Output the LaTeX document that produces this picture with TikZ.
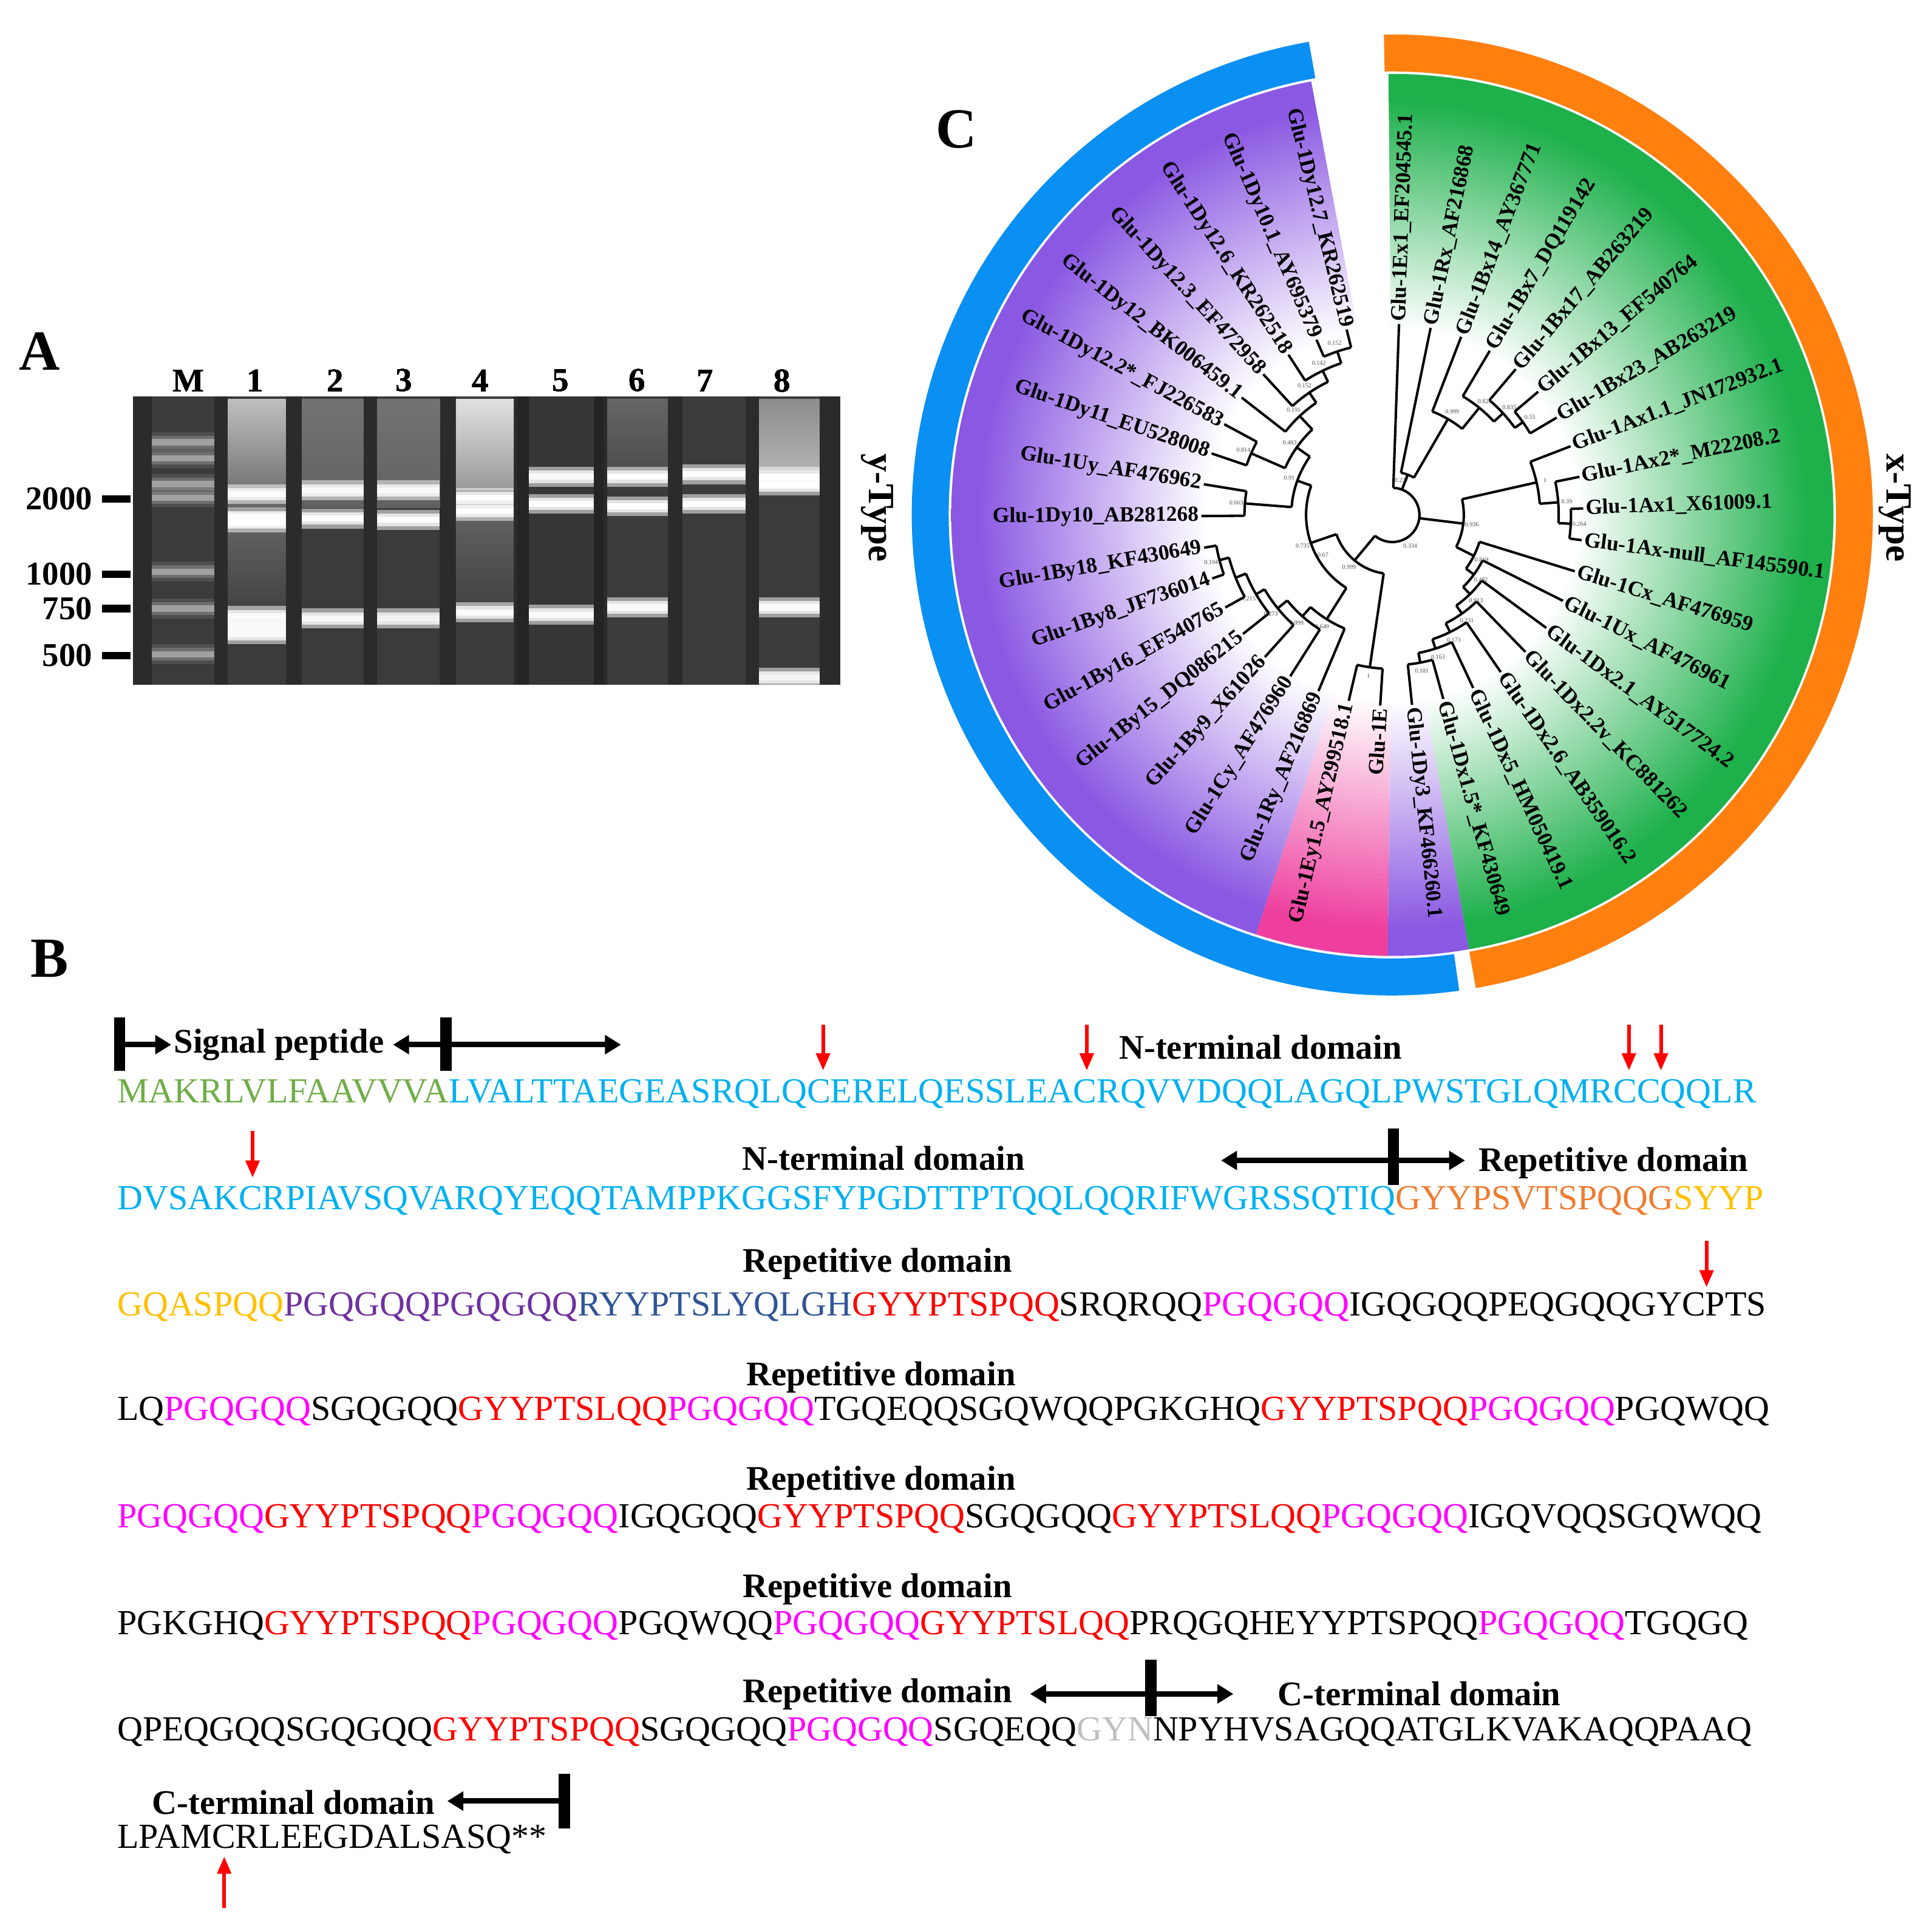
\documentclass[tikz,border=0pt]{standalone}
\usepackage{fontspec}
\setmainfont{Liberation Serif}
\usetikzlibrary{arrows.meta}
\definecolor{sgreen}{HTML}{70AD47}
\definecolor{sblue}{HTML}{00B0F0}
\definecolor{sorange}{HTML}{ED7D31}
\definecolor{syellow}{HTML}{FFC000}
\definecolor{spurple}{HTML}{7030A0}
\definecolor{sdark}{HTML}{2F5597}
\definecolor{sred}{HTML}{FF0000}
\definecolor{smag}{HTML}{FF00FF}
\definecolor{sgray}{HTML}{BFBFBF}
\definecolor{ringblue}{HTML}{0A8FF2}
\definecolor{ringorange}{HTML}{FF7F0F}
\definecolor{fgreen}{HTML}{1DB04B}
\definecolor{fpurple}{HTML}{8A58E2}
\definecolor{fpink}{HTML}{EE3F9E}
\pgfdeclareradialshading{gfan}{\pgfpoint{0bp}{0bp}}{color(0bp)=(white); color(10.5bp)=(white); color(23.5bp)=(fgreen); color(50bp)=(fgreen)}
\pgfdeclareradialshading{pfan}{\pgfpoint{0bp}{0bp}}{color(0bp)=(white); color(10.5bp)=(white); color(23.5bp)=(fpurple); color(50bp)=(fpurple)}
\pgfdeclareradialshading{kfan}{\pgfpoint{0bp}{0bp}}{color(0bp)=(white); color(10.5bp)=(white); color(23.5bp)=(fpink); color(50bp)=(fpink)}
\tikzset{
  br/.style={line width=2pt},
  lab/.style={font=\bfseries\fontsize{17.5}{17.5}\selectfont, inner sep=2pt},
  bsf/.style={font=\fontsize{5}{5}\selectfont, inner sep=0pt, text=black!70},
  seq/.style={font=\fontsize{28.6}{28.6}\selectfont, anchor=base west, inner sep=0pt},
  hdr/.style={font=\bfseries\fontsize{28}{28}\selectfont, inner sep=0pt},
  big/.style={line width=4.5pt, -{Triangle[width=15pt,length=13pt]}},
  bar/.style={line width=9pt},
  redar/.style={sred, line width=3pt, -{Triangle[width=11pt,length=14pt]}},
  gl/.style={font=\bfseries\fontsize{27}{27}\selectfont, inner sep=0pt},
  panel/.style={font=\bfseries\fontsize{46}{46}\selectfont, inner sep=0pt},
}
\newcommand\lf[3]{\draw[br] (#1:#2) -- (#1:155);
  \pgfmathsetmacro\cc{cos(#1)}%
  \ifdim\cc pt>0pt \node[lab,anchor=west,rotate=#1] at (#1:155) {#3};%
  \else \pgfmathsetmacro\ra{#1+180}\node[lab,anchor=east,rotate=\ra] at (#1:155) {#3};\fi}
\newcommand\nd[5]{\draw[br] (#2:#3) -- (#2:#1); \draw[br] (#4:#1) arc[start angle=#4, end angle=#5, radius=#1];}
\newcommand\bs[3]{\node[bsf] at (#2:#1+7) {#3};}
\newcommand\band[4]{\fill[white,opacity=#4] (#1,#3-2.5) rectangle (#2,#3+2.5);\fill[white,opacity=0.18] (#1,#3-5) rectangle (#2,#3+5);\fill[white,opacity=0.1] (#1,#3-8) rectangle (#2,#3+8);}
\begin{document}
\begin{tikzpicture}[x=1pt,y=-1pt]
\useasboundingbox (0,0) rectangle (1568,1564.6);
% ---------------- Panel A ----------------
\node[panel] (pA) at (32,285) {A};
\fill[black!83] (108,322) rectangle (682,556);
\fill[black!86] (420,322) rectangle (490,556);
\foreach \a/\b in {123/174,185/232,245/295,306/357,370/417,493/542,554/605,616/665}
  \fill[black!77] (\a,322) rectangle (\b,556);
\fill[black!79] (429,322) rectangle (482,556);
% smears
\shade[top color=black!25, bottom color=black!60] (185,324) rectangle (232,412);
\shade[top color=black!55, bottom color=black!62] (245,324) rectangle (295,412);
\shade[top color=black!55, bottom color=black!62] (306,324) rectangle (357,412);
\shade[top color=black!12, bottom color=black!40] (370,324) rectangle (417,398);
\shade[top color=black!60, bottom color=black!70] (493,324) rectangle (542,382);
\shade[top color=black!45, bottom color=black!30] (616,324) rectangle (665,382);
\shade[top color=black!62, bottom color=black!75] (185,430) rectangle (232,500);
\shade[top color=black!62, bottom color=black!75] (370,418) rectangle (417,500);
% bands
\foreach \y in {359,372,393,404,464,494,531} \band{123}{174}{\y}{0.35}
\band{185}{232}{424}{0.95}\band{185}{232}{420}{0.9}\band{185}{232}{401}{0.3}
\band{185}{232}{500}{0.3}\band{185}{232}{508}{0.25}\band{185}{232}{515}{0.2}
\band{245}{295}{421}{0.95}\band{245}{295}{398}{0.2}\band{245}{295}{502}{0.25}
\band{306}{357}{422}{0.95}\band{306}{357}{398}{0.2}\band{306}{357}{502}{0.12}
\band{370}{417}{404}{0.5}\band{370}{417}{415}{0.85}\band{370}{417}{497}{0.3}
\band{429}{482}{387}{0.3}\band{429}{482}{409}{0.4}\band{429}{482}{499}{0.3}
\band{493}{542}{387}{0.8}\band{493}{542}{411}{0.9}\band{493}{542}{493}{0.25}
\band{554}{605}{385}{0.65}\band{554}{605}{409}{0.5}
\band{616}{665}{387}{0.9}\band{616}{665}{394}{0.85}\band{616}{665}{493}{0.3}\band{616}{665}{550}{0.15}
% lane labels
\foreach \x/\t [count=\i] in {153/M,207/1,272/2,328/3,390/4,455/5,517/6,572/7,635/8}
  \node[gl] (ln\i) at (\x,309) {\t};
\foreach \y/\t [count=\i] in {405/2000,466/1000,494/750,532/500}{
  \node[gl,anchor=east] (sz\i) at (75,\y) {\t};
  \draw[line width=6pt] (83,\y) -- (106,\y);}
% ---------------- Panel C ----------------
\node[panel] (pC) at (776,105) {C};
\node[font=\bfseries\fontsize{30}{30}\selectfont,rotate=-90] (yt) at (712,412) {y-Type};
\node[font=\bfseries\fontsize{30}{30}\selectfont,rotate=-90] (xt) at (1538,412) {x-Type};
\begin{scope}[shift={(1130,418)}, yscale=-1]
\fill[ringblue] (100:360) arc[start angle=100,end angle=278,radius=360] -- (278:390) arc[start angle=278,end angle=100,radius=390] -- cycle;
\fill[ringorange] (-80:360) arc[start angle=-80,end angle=91,radius=360] -- (91:390) arc[start angle=91,end angle=-80,radius=390] -- cycle;
\begin{scope}\clip (0,0) -- (-80:358) arc[start angle=-80,end angle=90.5,radius=358] -- cycle;
\shade[shading=gfan] (0,0) circle (358);\end{scope}
\begin{scope}\clip (0,0) -- (100.6:358) arc[start angle=100.6,end angle=252,radius=358] -- cycle;
\shade[shading=pfan] (0,0) circle (358);\end{scope}
\begin{scope}\clip (0,0) -- (-90.6:358) arc[start angle=-90.6,end angle=-80,radius=358] -- cycle;
\shade[shading=pfan] (0,0) circle (358);\end{scope}
\begin{scope}\clip (0,0) -- (-108:358) arc[start angle=-108,end angle=-90.6,radius=358] -- cycle;
\shade[shading=kfan] (0,0) circle (358);\end{scope}
% tree
\draw[br] (88:22) arc[start angle=88,end angle=-129.7,radius=22];
\lf{88}{22}{Glu-1Ex1\_EF204545.1}
\nd{35}{69.18}{22}{78.44}{59.92}
\lf{78.44}{35}{Glu-1Rx\_AF216868}
\nd{90}{59.92}{35}{68.88}{50.96}
\lf{68.88}{90}{Glu-1Bx14\_AY367771}
\nd{112}{50.96}{90}{59.32}{42.59}
\lf{59.32}{112}{Glu-1Bx7\_DQ119142}
\nd{122}{42.59}{112}{49.76}{35.42}
\lf{49.76}{122}{Glu-1Bx17\_AB263219}
\nd{130}{35.42}{122}{40.2}{30.64}
\lf{40.2}{130}{Glu-1Bx13\_EF540764}
\lf{30.64}{130}{Glu-1Bx23\_AB263219}
\nd{58}{-6.96}{22}{12.72}{-26.65}
\nd{120}{12.72}{58}{21.08}{4.35}
\lf{21.08}{120}{Glu-1Ax1.1\_JN172932.1}
\nd{135}{4.35}{120}{11.52}{-2.82}
\lf{11.52}{135}{Glu-1Ax2*\_M22208.2}
\nd{145}{-2.82}{135}{1.96}{-7.6}
\lf{1.96}{145}{Glu-1Ax1\_X61009.1}
\lf{-7.6}{145}{Glu-1Ax-null\_AF145590.1}
\nd{74}{-26.65}{58}{-17.16}{-36.13}
\lf{-17.16}{74}{Glu-1Cx\_AF476959}
\nd{82}{-36.13}{74}{-26.72}{-45.54}
\lf{-26.72}{82}{Glu-1Ux\_AF476961}
\nd{90}{-45.54}{82}{-36.28}{-54.8}
\lf{-36.28}{90}{Glu-1Dx2.1\_AY517724.2}
\nd{98}{-54.8}{90}{-45.84}{-63.77}
\lf{-45.84}{98}{Glu-1Dx2.2v\_KC881262}
\nd{106}{-63.77}{98}{-55.4}{-72.13}
\lf{-55.4}{106}{Glu-1Dx2.6\_AB359016.2}
\nd{114}{-72.13}{106}{-64.96}{-79.3}
\lf{-64.96}{114}{Glu-1Dx5\_HM050419.1}
\nd{122}{-79.3}{114}{-74.52}{-84.08}
\lf{-74.52}{122}{Glu-1Dx1.5*\_KF430649}
\lf{-84.08}{122}{Glu-1Dy3\_KF466260.1}
\nd{48}{-129.7}{22}{-98.42}{-161.01}
\nd{125}{-98.42}{48}{-93.64}{-103.2}
\lf{-93.64}{125}{Glu-1E}
\lf{-103.2}{125}{Glu-1Ey1.5\_AY299518.1}
\nd{70}{-161.01}{48}{-122.17}{-199.85}
\nd{100}{-122.17}{70}{-112.76}{-131.58}
\lf{-112.76}{100}{Glu-1Ry\_AF216869}
\nd{110}{-131.58}{100}{-122.32}{-140.84}
\lf{-122.32}{110}{Glu-1Cy\_AF476960}
\nd{120}{-140.84}{110}{-131.88}{-149.8}
\lf{-131.88}{120}{Glu-1By9\_X61026}
\nd{128}{-149.8}{120}{-141.44}{-158.17}
\lf{-141.44}{128}{Glu-1By15\_DQ086215}
\nd{137}{-158.17}{128}{-151}{-165.34}
\lf{-151}{137}{Glu-1By16\_EF540765}
\nd{145}{-165.34}{137}{-160.56}{-170.12}
\lf{-160.56}{145}{Glu-1By8\_JF736014}
\lf{-170.12}{145}{Glu-1By18\_KF430649}
\nd{82}{-199.85}{70}{-184.46}{-215.23}
\nd{120}{-184.46}{82}{-179.68}{-189.24}
\lf{-179.68}{120}{Glu-1Dy10\_AB281268}
\lf{-189.24}{120}{Glu-1Uy\_AF476962}
\nd{95}{-215.23}{82}{-203.58}{-226.88}
\nd{125}{-203.58}{95}{-198.8}{-208.36}
\lf{-198.8}{125}{Glu-1Dy11\_EU528008}
\lf{-208.36}{125}{Glu-1Dy12.2*\_FJ226583}
\nd{110}{-226.88}{95}{-217.92}{-235.85}
\lf{-217.92}{110}{Glu-1Dy12\_BK006459.1}
\nd{120}{-235.85}{110}{-227.48}{-244.21}
\lf{-227.48}{120}{Glu-1Dy12.3\_EF472958}
\nd{130}{-244.21}{120}{-237.04}{-251.38}
\lf{-237.04}{130}{Glu-1Dy12.6\_KR262518}
\nd{140}{-251.38}{130}{-246.6}{-256.16}
\lf{-246.6}{140}{Glu-1Dy10.1\_AY695379}
\lf{-256.16}{140}{Glu-1Dy12.7\_KR262519}
% bootstrap values
\bs{22}{-60}{0.334}\bs{22}{75}{0.237}
\bs{90}{59.92}{0.999}\bs{112}{50.96}{0.829}\bs{122}{42.59}{0.835}\bs{130}{35.42}{0.55}
\bs{58}{-6.96}{0.936}\bs{120}{12.72}{1}\bs{135}{4.35}{0.39}\bs{145}{-2.82}{0.264}
\bs{74}{-26.65}{0.819}\bs{82}{-36.13}{0.482}\bs{90}{-45.54}{0.913}\bs{98}{-54.8}{0.231}
\bs{106}{-63.77}{0.173}\bs{114}{-72.13}{0.163}\bs{122}{-79.3}{0.181}
\bs{48}{-129.7}{0.999}\bs{125}{-98.42}{1}\bs{58}{-150}{0.67}\bs{70}{-161.01}{0.735}
\bs{100}{-122.17}{0.649}\bs{110}{-131.58}{0.999}\bs{120}{-140.84}{0.273}\bs{128}{-149.8}{0.215}
\bs{145}{-165.34}{0.194}\bs{82}{-199.85}{0.91}\bs{120}{-184.46}{0.663}\bs{95}{-215.23}{0.483}
\bs{125}{-203.58}{0.814}\bs{110}{-226.88}{0.191}\bs{120}{-235.85}{0.152}\bs{130}{-244.21}{0.142}\bs{140}{-251.38}{0.152}
\end{scope}
% ---------------- Panel B ----------------
\node[panel] (pB) at (40,778) {B};
% line 1
\draw[bar] (97,826) -- (97,869);
\coordinate (s1) at (97,848); \coordinate (s1e) at (139,848);
\draw[big] (s1) -- (s1e);
\node[hdr,anchor=west] (sp) at (141,848) {Signal peptide};
\draw[bar] (362,826) -- (362,869);
\coordinate (b2) at (362,848); \coordinate (b2l) at (319,848); \coordinate (b2r) at (504,848);
\draw[big] (b2) -- (b2l); \draw[big] (b2) -- (b2r);
\node[hdr,anchor=west] (nt1) at (908,850) {N-terminal domain};
\foreach \x [count=\i] in {668,882,1322,1348}{
  \coordinate (ra\i) at (\x,832); \coordinate (rb\i) at (\x,869);
  \draw[redar] (ra\i) -- (rb\i);}
\node[seq] (l1) at (95,895) {\textcolor{sgreen}{MAKRLVLFAAVVVA}\textcolor{sblue}{LVALTTAEGEASRQLQCERELQESSLEACRQVVDQQLAGQLPWSTGLQMRCCQQLR}};
% line 2
\coordinate (rc1) at (205,918); \coordinate (rd1) at (205,956); \draw[redar] (rc1) -- (rd1);
\node[hdr] (nt2) at (717,940) {N-terminal domain};
\draw[bar] (1131,916) -- (1131,962);
\coordinate (b3) at (1131,942); \coordinate (b3l) at (991,942); \coordinate (b3r) at (1189,942);
\draw[big] (b3) -- (b3l); \draw[big] (b3) -- (b3r);
\node[hdr,anchor=west] (rp1) at (1200,944) {Repetitive domain};
\node[seq] (l2) at (95,982) {\textcolor{sblue}{DVSAKCRPIAVSQVARQYEQQTAMPPKGGSFYPGDTTPTQQLQQRIFWGRSSQTIQ}\textcolor{sorange}{GYYPSVTSPQQG}\textcolor{syellow}{SYYP}};
% line 3
\node[hdr] (rp2) at (712,1026) {Repetitive domain};
\coordinate (re1) at (1385,1007); \coordinate (rf1) at (1385,1045); \draw[redar] (re1) -- (rf1);
\node[seq] (l3) at (95,1068) {\textcolor{syellow}{GQASPQQ}\textcolor{spurple}{PGQGQQPGQGQQ}\textcolor{sdark}{RYYPTSLYQLGH}\textcolor{sred}{GYYPTSPQQ}SRQRQQ\textcolor{smag}{PGQGQQ}IGQGQQPEQGQQGYCPTS};
% line 4
\node[hdr] (rp3) at (715,1118) {Repetitive domain};
\node[seq] (l4) at (95,1153) {LQ\textcolor{smag}{PGQGQQ}SGQGQQ\textcolor{sred}{GYYPTSLQQ}\textcolor{smag}{PGQGQQ}TGQEQQSGQWQQPGKGHQ\textcolor{sred}{GYYPTSPQQ}\textcolor{smag}{PGQGQQ}PGQWQQ};
% line 5
\node[hdr] (rp4) at (715,1203) {Repetitive domain};
\node[seq] (l5) at (95,1240) {\textcolor{smag}{PGQGQQ}\textcolor{sred}{GYYPTSPQQ}\textcolor{smag}{PGQGQQ}IGQGQQ\textcolor{sred}{GYYPTSPQQ}SGQGQQ\textcolor{sred}{GYYPTSLQQ}\textcolor{smag}{PGQGQQ}IGQVQQSGQWQQ};
% line 6
\node[hdr] (rp5) at (712,1290) {Repetitive domain};
\node[seq] (l6) at (95,1327) {PGKGHQ\textcolor{sred}{GYYPTSPQQ}\textcolor{smag}{PGQGQQ}PGQWQQ\textcolor{smag}{PGQGQQ}\textcolor{sred}{GYYPTSLQQ}PRQGQHEYYPTSPQQ\textcolor{smag}{PGQGQQ}TGQGQ};
% line 7
\node[hdr] (rp6) at (712,1375) {Repetitive domain};
\draw[bar] (934,1347) -- (934,1393);
\coordinate (b4) at (934,1375); \coordinate (b4l) at (836,1375); \coordinate (b4r) at (1001,1375);
\draw[big] (b4) -- (b4l); \draw[big] (b4) -- (b4r);
\node[hdr,anchor=west] (ct1) at (1037,1375) {C-terminal domain};
\node[seq] (l7) at (95,1413) {QPEQGQQSGQGQQ\textcolor{sred}{GYYPTSPQQ}SGQGQQ\textcolor{smag}{PGQGQQ}SGQEQQ\textcolor{sgray}{GYN}NPYHVSAGQQATGLKVAKAQQPAAQ};
% line 8
\node[hdr] (ct2) at (238,1463) {C-terminal domain};
\draw[bar] (458,1440) -- (458,1484);
\coordinate (b5) at (458,1462); \coordinate (b5l) at (363,1462);
\draw[big] (b5) -- (b5l);
\node[seq] (l8) at (95,1500) {LPAMCRLEEGDALSASQ**};
\coordinate (rg1) at (182,1549); \coordinate (rh1) at (182,1507); \draw[redar] (rg1) -- (rh1);
\end{tikzpicture}
\end{document}
